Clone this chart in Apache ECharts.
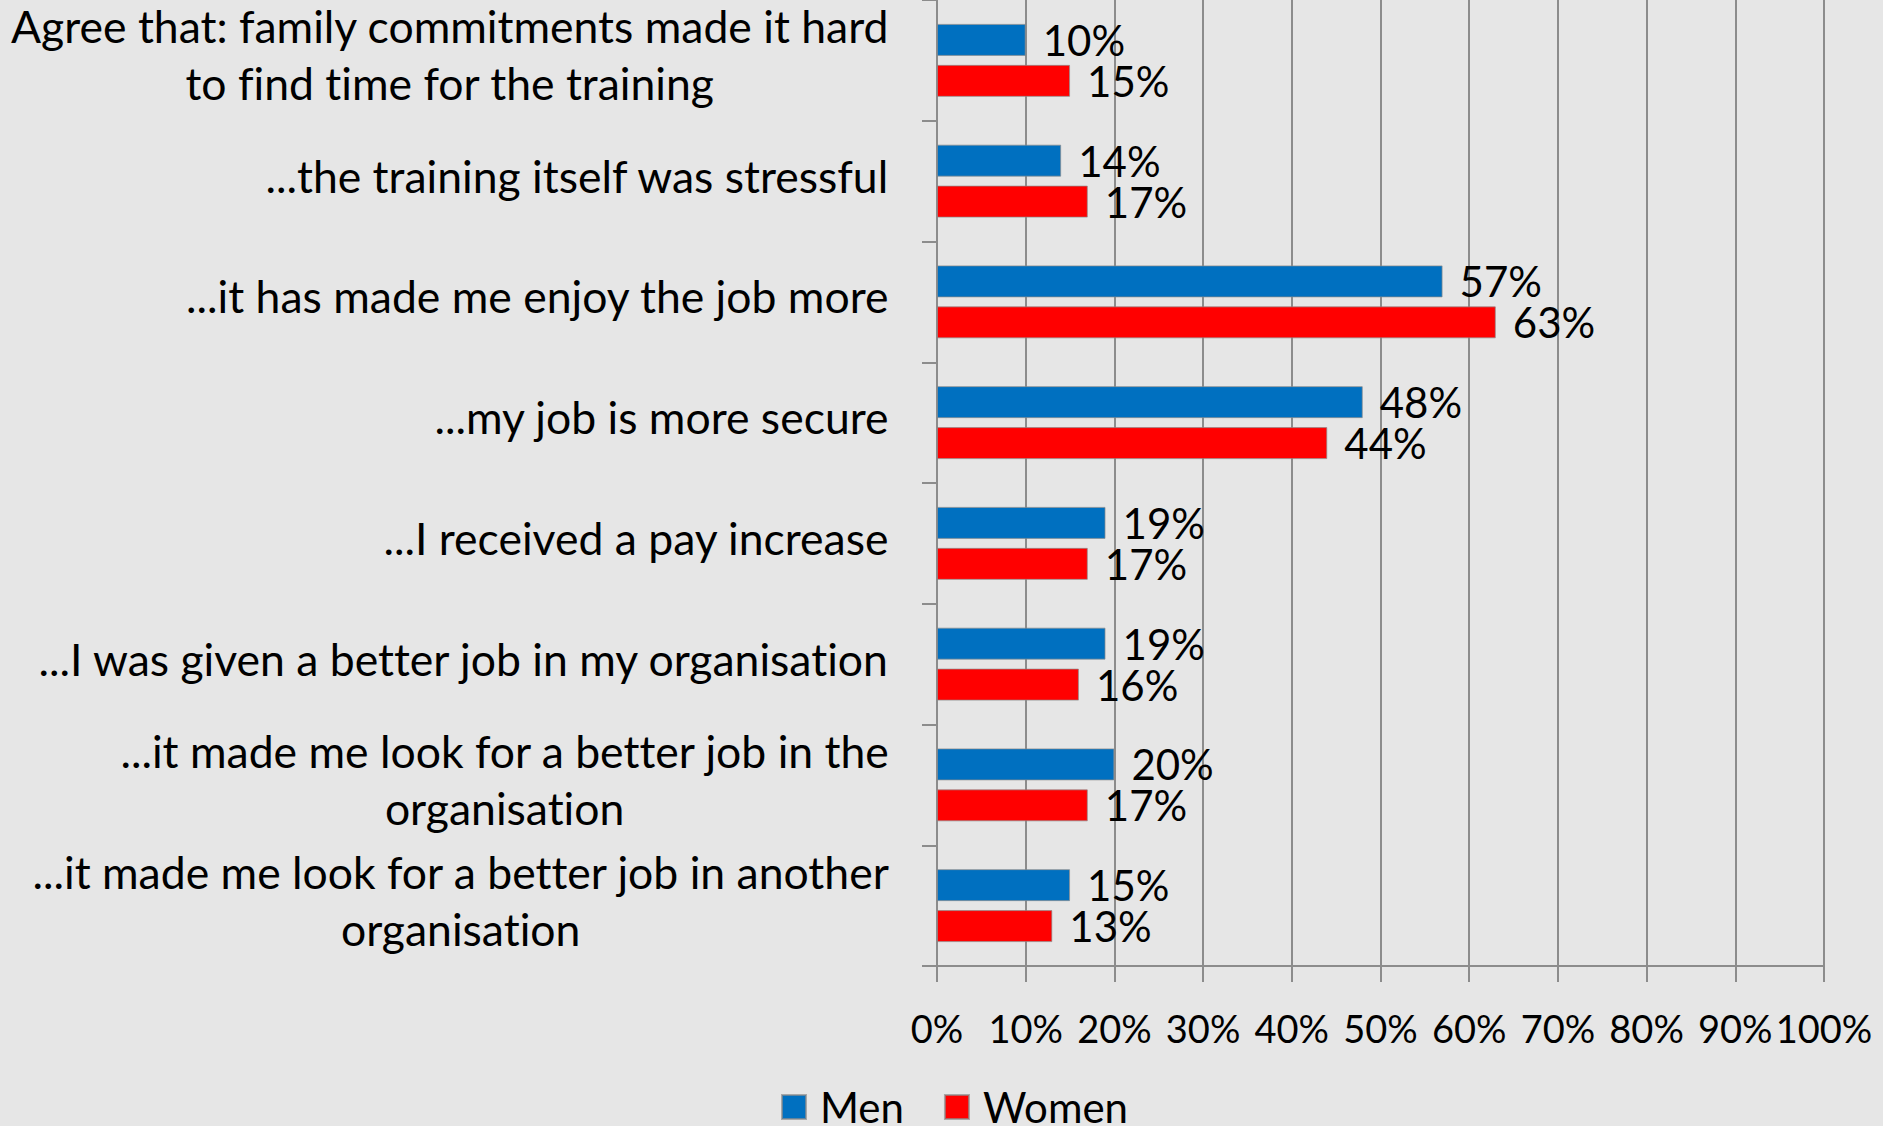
<!DOCTYPE html>
<html>
<head>
<meta charset="utf-8">
<script src="https://cdn.jsdelivr.net/npm/echarts@6/dist/echarts.min.js"></script>
<style>
html,body{margin:0;padding:0;background:#e6e6e6;}
#c{width:1883px;height:1126px;}
#c text{font-variant-ligatures:none;}
</style>
</head>
<body>
<div id="c"></div>
<script>
const categories = [
  "Agree that: family commitments made it hard\nto find time for the training",
  "...the training itself was stressful",
  "...it has made me enjoy the job more",
  "...my job is more secure",
  "...I received a pay increase",
  "...I was given a better job in my organisation",
  "...it made me look for a better job in the\norganisation",
  "...it made me look for a better job in another\norganisation"
];
const men = [10, 14, 57, 48, 19, 19, 20, 15];
const women = [15, 17, 63, 44, 17, 16, 17, 13];
const seriesNames = ["Men", "Women"];

const FONT = "Lato";
const chart = echarts.init(document.getElementById('c'), null, { renderer: 'svg' });
const labelStyle = {
  show: true, position: 'right', distance: 17,
  formatter: p => p.value + '%',
  fontFamily: FONT, fontSize: 42, lineHeight: 38, color: '#000'
};
chart.setOption({
  backgroundColor: '#e6e6e6',
  animation: false,
  textStyle: { fontFamily: FONT },
  grid: { left: 937, right: 59, top: 0, bottom: 160, containLabel: false },
  legend: {
    data: seriesNames,
    left: 776, top: 1081,
    itemWidth: 24, itemHeight: 24, itemGap: 40,
    icon: 'rect',
    textStyle: { fontFamily: FONT, fontSize: 42, color: '#000', lineHeight: 40, padding: [0, 0, 0, 9] }
  },
  xAxis: {
    type: 'value', min: 0, max: 100, interval: 10,
    axisLine: { show: true, lineStyle: { color: '#8c8c8c', width: 2 } },
    axisTick: { show: true, length: 16, lineStyle: { color: '#8c8c8c', width: 2 } },
    splitLine: { show: true, lineStyle: { color: '#8c8c8c', width: 2 } },
    axisLabel: { formatter: '{value}%', fontFamily: FONT, fontSize: 38, color: '#000', margin: 43,
      showMaxLabel: true, showMinLabel: true, hideOverlap: false }
  },
  yAxis: {
    type: 'category', data: categories, inverse: true,
    axisLine: { show: true, lineStyle: { color: '#8c8c8c', width: 2 } },
    axisTick: { show: true, length: 15, lineStyle: { color: '#8c8c8c', width: 2 } },
    axisLabel: {
      margin: 48,
      padding: [0, 0, 12, 0],
      formatter: v => v.split('\n').map(s => '{c|' + s + '}').join('\n'),
      rich: { c: { align: 'center', fontFamily: FONT, fontSize: 44.5, color: '#000', lineHeight: 57 } }
    }
  },
  series: [
    { name: 'Men', type: 'bar', data: men, barWidth: 32, barGap: '28%',
      itemStyle: { color: '#0070C0', borderColor: 'rgba(140,140,140,0.7)', borderWidth: 1 },
      label: labelStyle },
    { name: 'Women', type: 'bar', data: women, barWidth: 32, barGap: '28%',
      itemStyle: { color: '#FF0000', borderColor: 'rgba(140,140,140,0.7)', borderWidth: 1 },
      label: labelStyle }
  ]
});
</script>
</body>
</html>
